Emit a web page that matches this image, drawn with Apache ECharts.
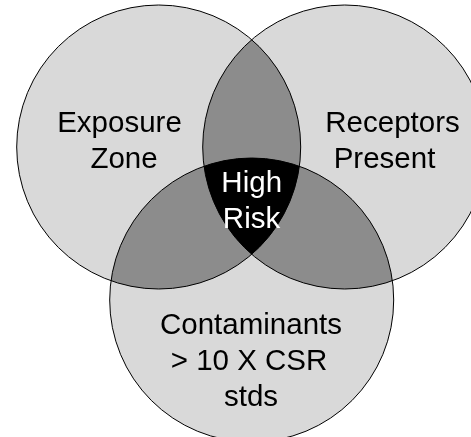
<!DOCTYPE html>
<html><head><meta charset="utf-8">
<script src="https://cdn.jsdelivr.net/npm/echarts@6/dist/echarts.min.js"></script>
<style>html,body{margin:0;padding:0;background:#fff}#c{width:471px;height:437px}</style>
</head><body><div id="c"></div>
<script>
// Sets of the Venn diagram (centres and radii in chart units)
const setNames = ['Exposure Zone', 'Receptors Present', 'Contaminants > 10 X CSR stds'];
const setCenterX = [158.7, 344.7, 251.7];
const setCenterY = [147, 147, 300];
const setRadius = [142, 142, 142];
// Overlap regions (indices of sets)
const overlapRegions = [[0, 1], [0, 2], [1, 2], [0, 1, 2]];
// Text lines
const labelLines = ['Exposure', 'Zone', 'Receptors', 'Present', 'High', 'Risk', 'Contaminants', '> 10 X CSR', 'stds'];
const labelX = [119.5, 124, 392.5, 384.5, 251.7, 251.5, 251, 249, 251];
const labelY = [124, 160, 124, 160, 184, 220, 326, 362, 398];
const labelOnBlack = [false, false, false, false, true, true, false, false, false];

const FONT = '29.5px "Liberation Sans", Arial, sans-serif';
const singleFill = '#d9d9d9';
const pairFill = '#8c8c8c';
const tripleFill = '#000000';

function circlePx(api, i) {
  const c = api.coord([setCenterX[i], setCenterY[i]]);
  const r = api.size([setRadius[i], 0])[0];
  return { cx: c[0], cy: c[1], r: r };
}

const chart = echarts.init(document.getElementById('c'), null, { renderer: 'canvas' });
chart.setOption({
  animation: false,
  backgroundColor: '#ffffff',
  grid: { left: 0, right: 0, top: 0, bottom: 0 },
  xAxis: { type: 'value', min: 0, max: 471, show: false },
  yAxis: { type: 'value', min: 0, max: 437, inverse: true, show: false },
  series: [
    {
      type: 'custom', clip: false, silent: true,
      data: setNames.map((n, i) => [setCenterX[i], setCenterY[i], setRadius[i]]),
      renderItem: function (params, api) {
        const c = circlePx(api, params.dataIndex);
        return { type: 'circle', shape: c, style: { fill: singleFill, stroke: null } };
      }
    },
    {
      type: 'custom', clip: false, silent: true,
      data: overlapRegions.map((r, i) => [i]),
      renderItem: function (params, api) {
        const region = overlapRegions[params.dataIndex];
        const circles = region.map(i => circlePx(api, i));
        const pts = [];
        const N = 1440;
        circles.forEach((c, ci) => {
          for (let k = 0; k < N; k++) {
            const a = 2 * Math.PI * k / N;
            const x = c.cx + c.r * Math.cos(a), y = c.cy + c.r * Math.sin(a);
            let inside = true;
            circles.forEach((o, oi) => {
              if (oi !== ci && Math.hypot(x - o.cx, y - o.cy) > o.r + 0.01) inside = false;
            });
            if (inside) pts.push([x, y]);
          }
        });
        let mx = 0, my = 0;
        pts.forEach(p => { mx += p[0]; my += p[1]; });
        mx /= pts.length; my /= pts.length;
        pts.sort((p, q) => Math.atan2(p[1] - my, p[0] - mx) - Math.atan2(q[1] - my, q[0] - mx));
        return {
          type: 'polygon', shape: { points: pts },
          style: { fill: region.length === 3 ? tripleFill : pairFill, stroke: null }
        };
      }
    },
    {
      type: 'custom', clip: false, silent: true,
      data: setNames.map((n, i) => [setCenterX[i], setCenterY[i], setRadius[i]]),
      renderItem: function (params, api) {
        const c = circlePx(api, params.dataIndex);
        return { type: 'circle', shape: c, style: { fill: null, stroke: '#000000', lineWidth: 1 } };
      }
    },
    {
      type: 'custom', clip: false, silent: true,
      data: labelLines.map((t, i) => [labelX[i], labelY[i]]),
      renderItem: function (params, api) {
        const i = params.dataIndex;
        const p = api.coord([labelX[i], labelY[i]]);
        return {
          type: 'text', x: p[0], y: p[1],
          style: {
            text: labelLines[i], font: FONT,
            fill: labelOnBlack[i] ? '#ffffff' : '#000000',
            align: 'center', verticalAlign: 'middle'
          }
        };
      }
    }
  ]
});
</script></body></html>
